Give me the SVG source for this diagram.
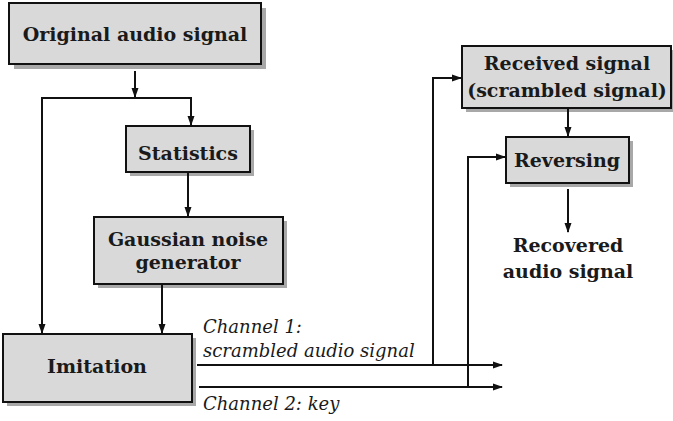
<svg xmlns="http://www.w3.org/2000/svg" width="673" height="421" viewBox="0 0 673 421">
<defs>
<marker id="ah" markerWidth="10" markerHeight="8" refX="9" refY="4" orient="auto" markerUnits="userSpaceOnUse">
<path d="M0,0.5 L10,4 L0,7.5 Z" fill="#111"/>
</marker>
</defs>
<style>
.sh{fill:#a8a8a8}
.bx{fill:#d9d9d9;stroke:#111;stroke-width:2}
.t{font-family:"DejaVu Serif","Liberation Serif",serif;font-weight:bold;font-size:19px;fill:#1a1a1a;text-anchor:middle}
.it{font-family:"DejaVu Serif","Liberation Serif",serif;font-style:italic;font-size:18px;fill:#1a1a1a}
.c{fill:none;stroke:#111;stroke-width:2}
</style>
<g id="original">
<rect class="sh" x="14" y="8" width="252" height="61"/>
<rect class="bx" x="9" y="3" width="252" height="61"/>
<text class="t" x="135" y="41">Original audio signal</text>
</g>
<g id="statistics">
<rect class="sh" x="130" y="130" width="124" height="46"/>
<rect class="bx" x="126" y="126" width="124" height="46"/>
<text class="t" x="188" y="160">Statistics</text>
</g>
<g id="gaussian">
<rect class="sh" x="98" y="221" width="189" height="67"/>
<rect class="bx" x="94" y="217" width="189" height="67"/>
<text class="t" x="188" y="246">Gaussian noise</text>
<text class="t" x="188" y="269">generator</text>
</g>
<g id="imitation">
<rect class="sh" x="7" y="338" width="189" height="68"/>
<rect class="bx" x="3" y="334" width="189" height="68"/>
<text class="t" x="97" y="373">Imitation</text>
</g>
<g id="received">
<rect class="sh" x="466" y="50" width="209" height="62"/>
<rect class="bx" x="462" y="46" width="209" height="62"/>
<text class="t" x="567" y="70">Received signal</text>
<text class="t" x="567" y="97">(scrambled signal)</text>
</g>
<g id="reversing">
<rect class="sh" x="510" y="141" width="123" height="46"/>
<rect class="bx" x="506" y="137" width="123" height="46"/>
<text class="t" x="567" y="167">Reversing</text>
</g>
<g id="recovered">
<text class="t" x="568" y="252">Recovered</text>
<text class="t" x="568" y="278">audio signal</text>
</g>
<g id="labels">
<text class="it" x="203" y="333">Channel 1:</text>
<text class="it" x="203" y="357">scrambled audio signal</text>
<text class="it" x="203" y="410">Channel 2: key</text>
</g>
<g id="connectors">
<path class="c" d="M135,71 V97" marker-end="url(#ah)"/>
<path class="c" d="M42,98 V333" marker-end="url(#ah)"/>
<path class="c" d="M41,98 H191 V125" marker-end="url(#ah)"/>
<path class="c" d="M188,172 V216" marker-end="url(#ah)"/>
<path class="c" d="M162,284 V333" marker-end="url(#ah)"/>
<path class="c" d="M197,365 H502" marker-end="url(#ah)"/>
<path class="c" d="M199,387 H502" marker-end="url(#ah)"/>
<path class="c" d="M433,365 V78 H461" marker-end="url(#ah)"/>
<path class="c" d="M468,387 V157 H505" marker-end="url(#ah)"/>
<path class="c" d="M568,108 V136" marker-end="url(#ah)"/>
<path class="c" d="M568,189 V232" marker-end="url(#ah)"/>
</g>
</svg>
